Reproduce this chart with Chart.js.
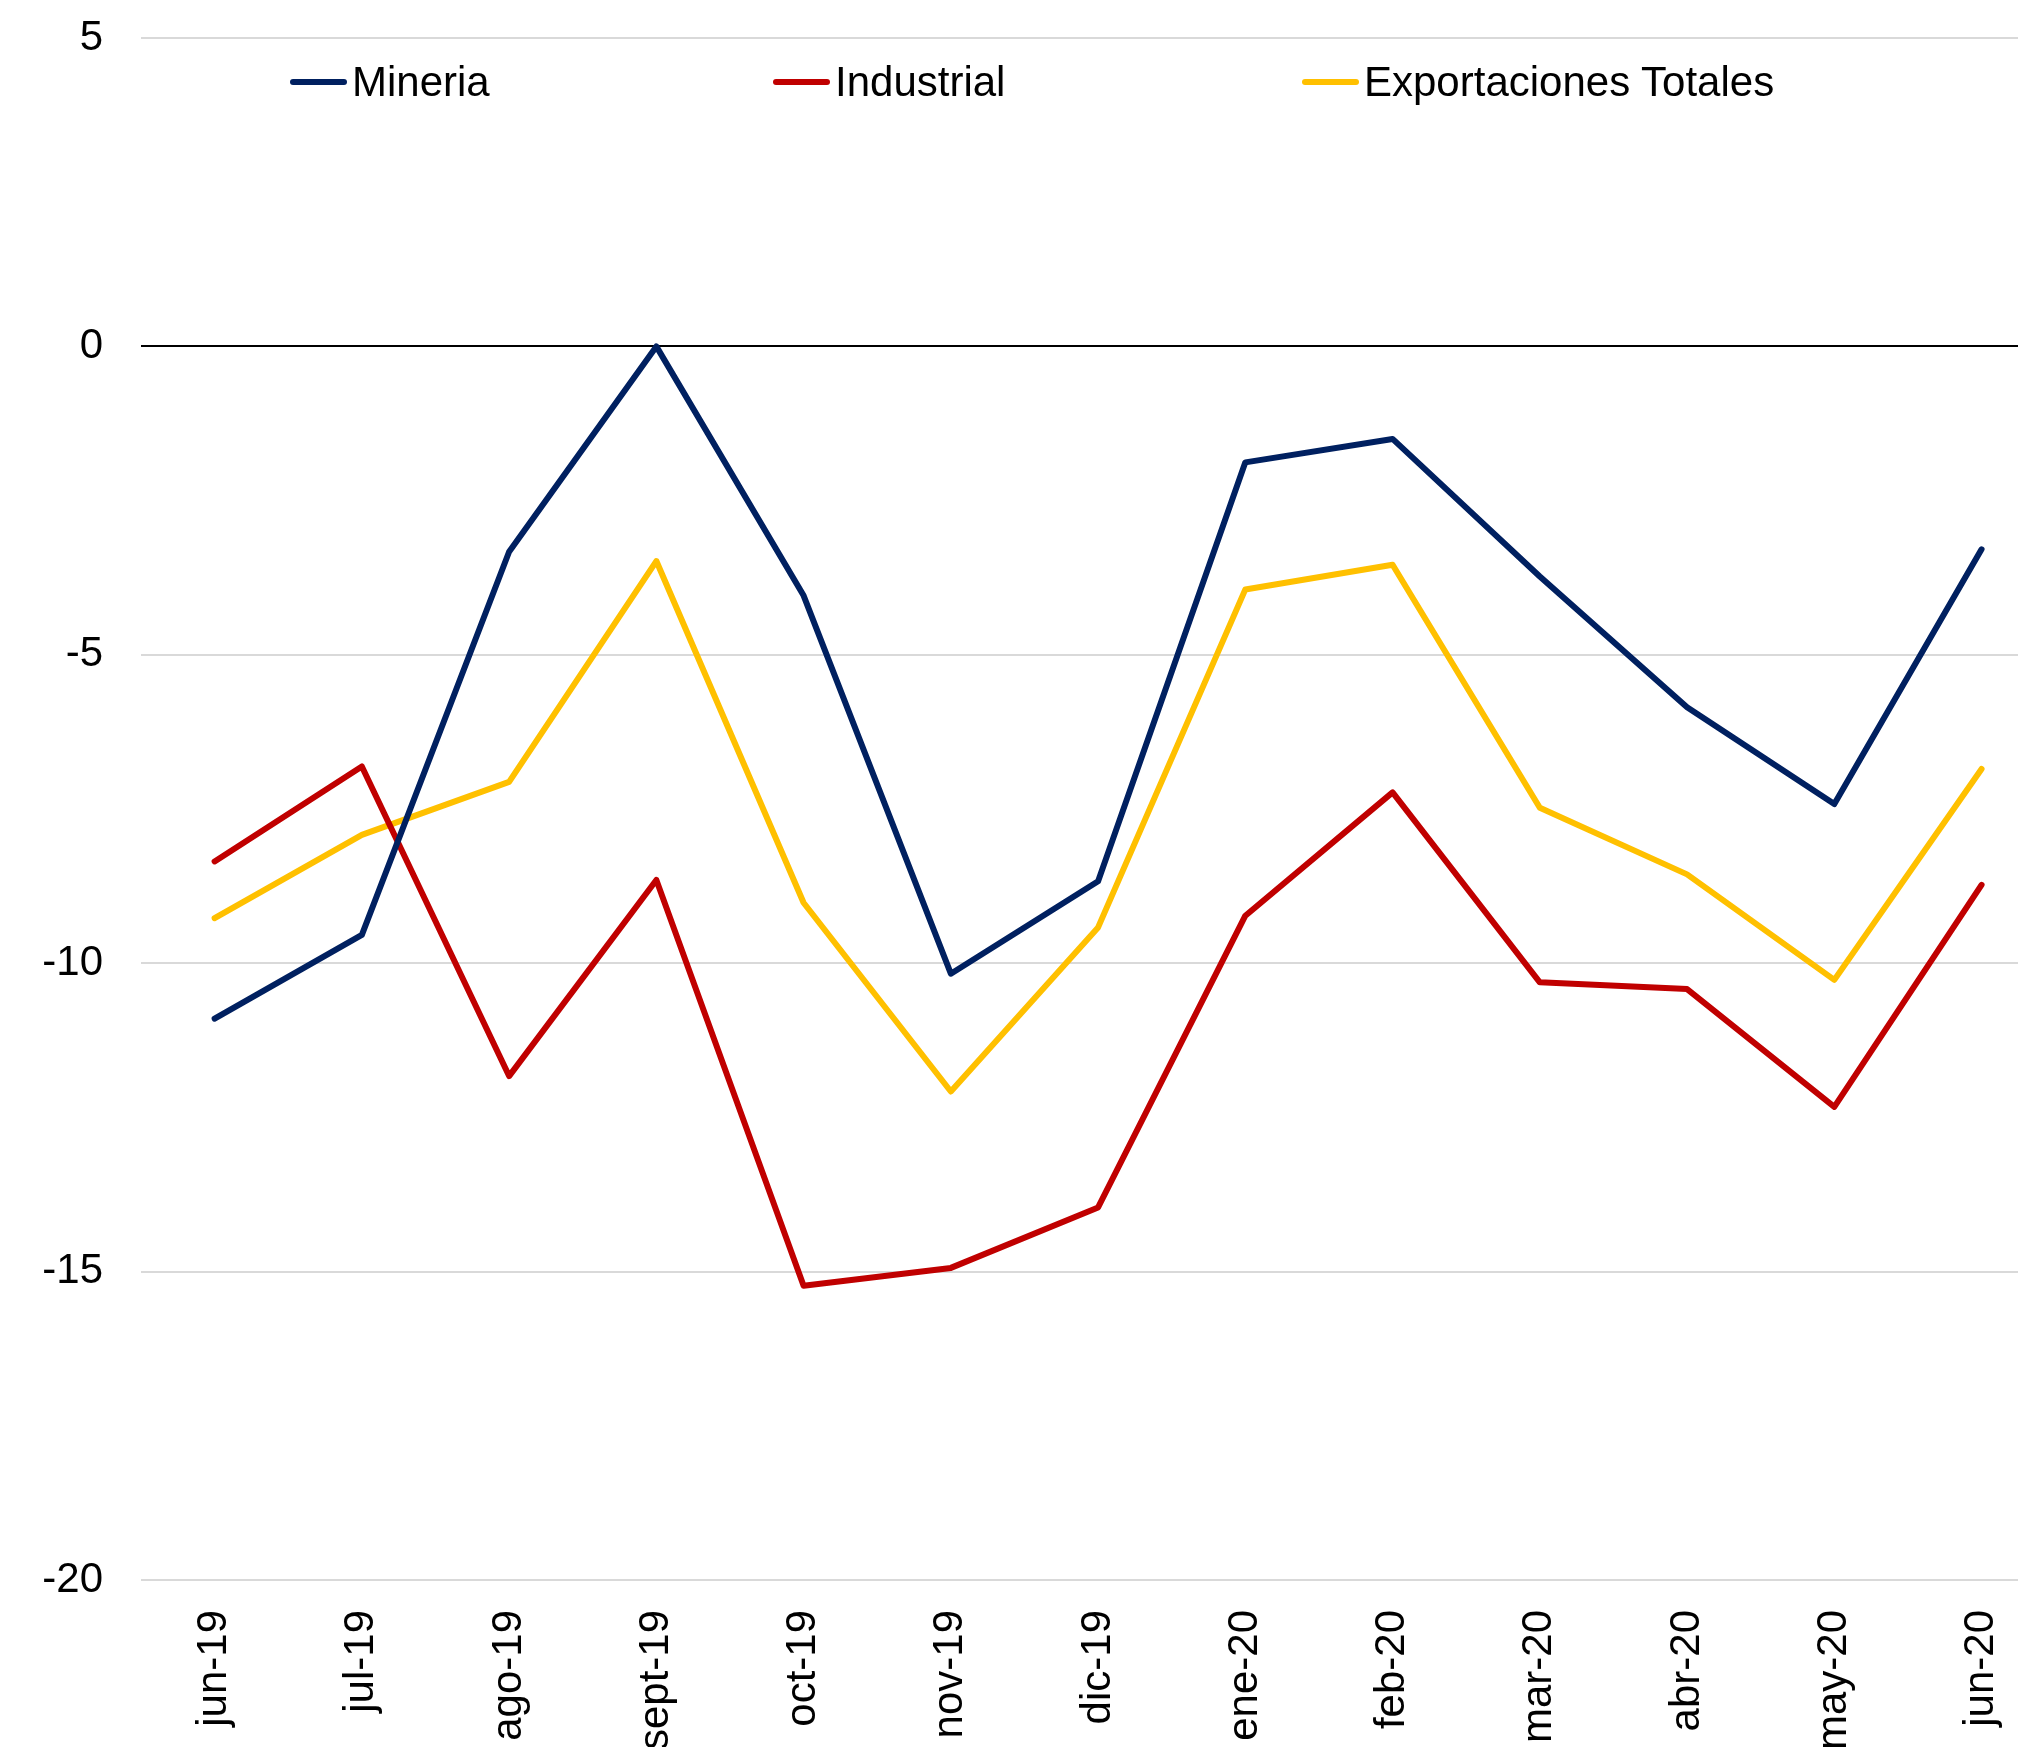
<!DOCTYPE html>
<html lang="es">
<head>
  <meta charset="UTF-8" />
  <title>Exportaciones</title>
  <style>
    html, body {
      margin: 0;
      padding: 0;
      background: #fff;
      overflow: hidden;
    }
    #wrap {
      position: relative;
      width: 2062px;
      height: 1800px;
    }
    .legend-item {
      position: absolute;
      top: 61px;
      height: 42px;
      display: flex;
      align-items: center;
      font-family: 'Liberation Sans', Arial, sans-serif;
      font-size: 42px;
      line-height: 42px;
      color: #000;
      white-space: nowrap;
    }
    .legend-line {
      width: 57px;
      height: 6px;
      border-radius: 3px;
      margin-right: 5px;
    }
  </style>
</head>
<body>
  <div id="wrap">
    <canvas id="chart" width="2062" height="1800"></canvas>
    <div class="legend-item" style="left:290px"><span class="legend-line" style="background:#002060"></span>Mineria</div>
    <div class="legend-item" style="left:773px"><span class="legend-line" style="background:#C00000"></span>Industrial</div>
    <div class="legend-item" style="left:1302px"><span class="legend-line" style="background:#FFC000"></span>Exportaciones Totales</div>
  </div>

  <script src="https://cdn.jsdelivr.net/npm/chart.js"></script>
  <script>
    const months = ['jun-19', 'jul-19', 'ago-19', 'sept-19', 'oct-19', 'nov-19', 'dic-19',
                    'ene-20', 'feb-20', 'mar-20', 'abr-20', 'may-20', 'jun-20'];
    const mineria = [-10.9, -9.54, -3.33, 0.0, -4.04, -10.17, -8.67, -1.88, -1.5, -3.73, -5.85, -7.42, -3.29];
    const industrial = [-8.35, -6.81, -11.83, -8.65, -15.23, -14.94, -13.96, -9.23, -7.23, -10.31, -10.42, -12.33, -8.73];
    const exportaciones = [-9.27, -7.92, -7.06, -3.48, -9.02, -12.08, -9.42, -3.94, -3.54, -7.48, -8.56, -10.27, -6.85];

    const font = { family: "'Liberation Sans', Arial, sans-serif", size: 42 };

    function line(label, data, color) {
      return {
        label,
        data,
        borderColor: color,
        backgroundColor: color,
        borderWidth: 6,
        borderCapStyle: 'round',
        borderJoinStyle: 'round',
        pointRadius: 0,
        tension: 0,
        fill: false
      };
    }

    new Chart(document.getElementById('chart').getContext('2d'), {
      type: 'line',
      data: {
        labels: months,
        datasets: [
          line('Mineria', mineria, '#002060'),
          line('Industrial', industrial, '#C00000'),
          line('Exportaciones Totales', exportaciones, '#FFC000')
        ]
      },
      options: {
        responsive: false,
        animation: false,
        layout: { padding: { top: 38, right: 1, left: 0, bottom: 0 } },
        plugins: {
          legend: { display: false },
          tooltip: { enabled: false }
        },
        scales: {
          x: {
            offset: true,
            grid: { display: false, drawTicks: false },
            border: { display: false },
            ticks: {
              color: '#000',
              font,
              minRotation: 90,
              maxRotation: 90,
              padding: 30,
              autoSkip: false
            },
            afterFit: s => { s.height = 220; }
          },
          y: {
            min: -20,
            max: 5,
            border: { display: false },
            grid: {
              drawTicks: false,
              lineWidth: 2,
              color: ctx => ctx.tick && ctx.tick.value === 0 ? '#000' : '#d9d9d9'
            },
            ticks: {
              stepSize: 5,
              color: '#000',
              font,
              padding: 38
            },
            afterFit: s => {
              s.width = 141;
              s.paddingTop = 0;
              s.paddingBottom = 0;
            }
          }
        }
      }
    });
  </script>
</body>
</html>
